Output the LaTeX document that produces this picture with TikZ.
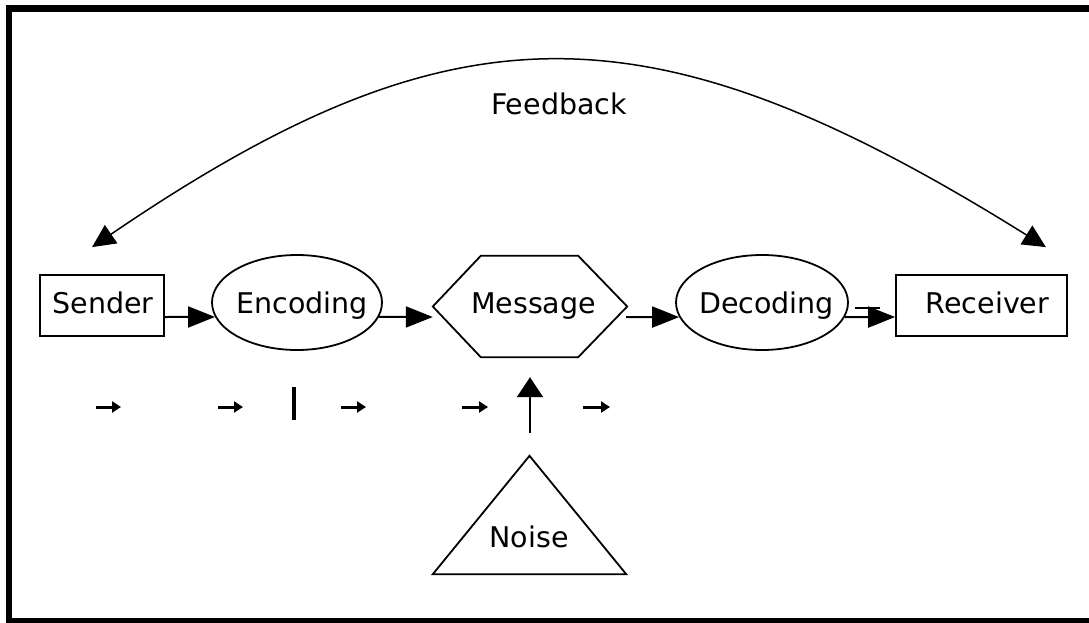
\documentclass[tikz,border=0pt]{standalone}
\usepackage{fontspec}
\setmainfont{DejaVu Sans}
\usetikzlibrary{arrows.meta,calc,shapes.geometric}
\begin{document}
\begin{tikzpicture}[x=1pt,y=-1pt,
  shapeline/.style={draw,line width=1.8pt,line join=miter},
  boxnode/.style={shapeline,rectangle,inner sep=0pt},
  ellnode/.style={shapeline,ellipse,inner sep=0pt},
  ghost/.style={rectangle,draw=none,inner sep=0pt},
  lbl/.style={inner sep=0pt,anchor=base,font=\fontsize{28.5}{34}\selectfont},
  conn/.style={line width=2pt,-{Triangle[length=27pt,width=21pt]}},
  noisearr/.style={line width=2pt,-{Triangle[length=20pt,width=26pt]}},
  fb/.style={line width=1.5pt,{Triangle[length=23pt,width=22pt]}-{Triangle[length=23pt,width=22pt]}},
  tinyarr/.style={line width=3pt,-{Triangle[length=9pt,width=11pt]}}]
\clip (0,0) rectangle (1089,623);
\fill[white] (0,0) rectangle (1089,623);
\draw[line width=6.5pt] (9,8.5) rectangle (1100,621.5);

% shapes
\node[boxnode,minimum width=124pt,minimum height=61pt] (snd) at (102,305.5) {};
\node[ellnode,minimum width=170pt,minimum height=95pt] (enc) at (297,302.5) {};
\node[ghost,minimum width=194pt,minimum height=101pt] (msg) at (530,306.5) {};
\draw[shapeline] (msg.west) -- ([xshift=48pt]msg.north west) -- ([xshift=-49pt]msg.north east)
  -- (msg.east) -- ([xshift=-49pt]msg.south east) -- ([xshift=48pt]msg.south west) -- cycle;
\node[ellnode,minimum width=172pt,minimum height=95pt] (dec) at (762,302.5) {};
\node[boxnode,minimum width=171pt,minimum height=61pt] (rcv) at (981.5,305.5) {};
\node[ghost,minimum width=193pt,minimum height=118pt] (noise) at (529.5,515) {};
\draw[shapeline] (noise.north) -- (noise.south east) -- (noise.south west) -- cycle;

% labels
\node[lbl] (sndT) at (103,313) {Sender};
\node[lbl] (encT) at (302,313) {Encoding};
\node[lbl] (msgT) at (533.5,313) {Message};
\node[lbl] (decT) at (766.5,313) {Decoding};
\node[lbl] (rcvT) at (987.5,313) {Receiver};
\node[lbl] (noiseT) at (529,547) {Noise};
\node[lbl] (fbT) at (559,114) {Feedback};

% connectors
\draw[conn] ($(snd.east)+(0,11.5)$) -- (enc.190);
\draw[conn] (enc.350) -- ($(msg.west)+(0,10.5)$);
\draw[conn] ($(msg.east)+(-1,10.5)$) -- (dec.190);
\draw[conn] (dec.350) -- ($(rcv.west)+(0,11.5)$);
\draw[line width=2pt] ($(dec.east)+(6,5)$) -- ($(dec.east)+(31,5)$);
\draw[noisearr] ($(noise.north)+(0.5,-23)$) -- ($(msg.south)+(0,20)$);

% feedback
\coordinate (fbL) at ($(snd.north west)+(53,-27)$);
\coordinate (fbR) at ($(rcv.north east)+(-22,-27)$);
\draw[fb] (fbL) .. controls (455,0) and (650,0) .. (fbR);

% small marks
\foreach \a/\b in {96/121,218/243,341/366,462/488,583/610}
  \draw[tinyarr] (\a,407) -- (\b,407);
\draw[line width=4pt] (294,387) -- (294,420);
\end{tikzpicture}
\end{document}
